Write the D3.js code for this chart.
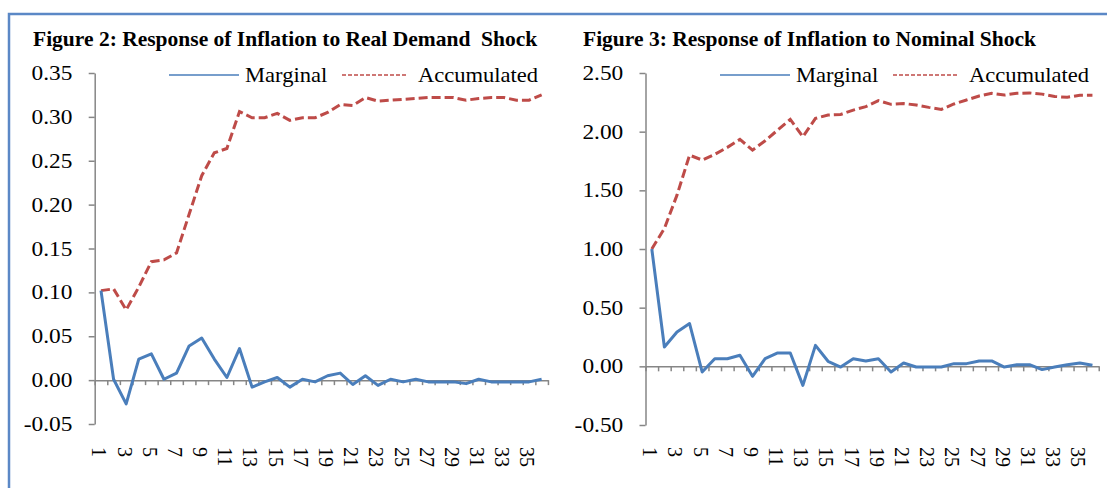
<!DOCTYPE html>
<html>
<head>
<meta charset="utf-8">
<script src="https://cdn.jsdelivr.net/npm/d3@7"></script>
<style>
  body { margin: 0; background: #fff; }
  svg text { font-family: "Times New Roman", "Liberation Serif", serif; fill: #000; }
</style>
</head>
<body>
<div id="chart"></div>
<script>
// periods 1..36
const periods = d3.range(1, 37);

// Figure 2: real demand shock
const realMarginal = [0.102, 0.001, -0.027, 0.024, 0.030, 0.001, 0.008, 0.039, 0.048, 0.024,
    0.003, 0.036, -0.008, -0.002, 0.003, -0.008, 0.001, -0.002, 0.005, 0.008,
    -0.005, 0.005, -0.006, 0.001, -0.002, 0.001, -0.002, -0.002, -0.002, -0.004,
    0.001, -0.002, -0.002, -0.002, -0.002, 0.001];
const realAccumulated = [0.102, 0.104, 0.080, 0.106, 0.135, 0.137, 0.145, 0.189, 0.233, 0.259,
    0.264, 0.306, 0.299, 0.299, 0.304, 0.296, 0.299, 0.299, 0.305, 0.314,
    0.313, 0.322, 0.318, 0.319, 0.320, 0.321, 0.322, 0.322, 0.322, 0.319,
    0.321, 0.322, 0.322, 0.319, 0.319, 0.325];
const realTicks = [-0.05, 0, 0.05, 0.10, 0.15, 0.20, 0.25, 0.30, 0.35];

// Figure 3: nominal shock
const nominalMarginal = [1.00, 0.165, 0.293, 0.364, -0.048, 0.065, 0.065, 0.094, -0.085, 0.065,
    0.114, 0.114, -0.162, 0.179, 0.043, -0.006, 0.065, 0.046, 0.065, -0.048,
    0.028, -0.006, -0.006, -0.006, 0.023, 0.023, 0.046, 0.046, -0.006, 0.014,
    0.014, -0.028, -0.006, 0.014, 0.028, 0.009];
const nominalAccumulated = [1.00, 1.175, 1.459, 1.80, 1.758, 1.806, 1.866, 1.934, 1.843, 1.922,
    2.014, 2.105, 1.957, 2.113, 2.142, 2.147, 2.184, 2.213, 2.264, 2.233,
    2.24, 2.227, 2.207, 2.19, 2.236, 2.27, 2.304, 2.327, 2.312, 2.327,
    2.33, 2.32, 2.30, 2.293, 2.31, 2.31];
const nominalTicks = [-0.5, 0, 0.5, 1.0, 1.5, 2.0, 2.5];

const blue = "#4a7ebb", red = "#be4b48", axisGray = "#868686";
// the original text is a little wider than Liberation Serif
const stretch = 1.14;

const svg = d3.select("#chart").append("svg")
    .attr("width", 1107)
    .attr("height", 488);

// outer frame
svg.append("path")
    .attr("d", "M9,488V14H1107")
    .attr("fill", "none")
    .attr("stroke", "#5b88c6")
    .attr("stroke-width", 2.5);

function ResponseChart(options) {
    let {title, titleX, marginal, accumulated, ticks, left, top, bottom, legendX} = options;
    let n = periods.length;
    let bandW = 12.59;
    let right = left + n * bandW;

    let g = svg.append("g");

    g.append("text")
        .attr("transform", "translate(" + titleX + ",46)")
        .attr("font-size", 21.5)
        .attr("font-weight", "bold")
        .text(title);

    let y = d3.scaleLinear()
        .domain([ticks[0], ticks[ticks.length - 1]])
        .range([bottom, top]);
    // band edges
    let xEdge = d3.scaleLinear().domain([0, n]).range([left, right]);
    let x = function (i) {
        return xEdge(i - 0.5);
    };

    let fmt = d3.format(".2f");
    let yAxis = g.append("g")
        .attr("transform", "translate(" + left + ",0)")
        .call(d3.axisLeft(y)
            .tickValues(ticks)
            .tickSize(6)
            .tickSizeOuter(0)
            .tickPadding(13.5)
            .tickFormat(d => fmt(d).replace("\u2212", "-")));
    yAxis.selectAll("line, path").attr("stroke", axisGray).attr("stroke-width", 1.5);
    yAxis.selectAll("text")
        .attr("font-size", 20.5)
        .attr("fill", "#000")
        .attr("transform", "scale(" + stretch + ",1)")
        .style("font-family", "'Times New Roman', 'Liberation Serif', serif");

    let xAxis = g.append("g")
        .attr("transform", "translate(0," + y(0) + ")")
        .call(d3.axisBottom(xEdge)
            .tickValues(d3.range(0, n + 1))
            .tickSize(5)
            .tickSizeOuter(0)
            .tickFormat(""));
    xAxis.selectAll("line, path").attr("stroke", axisGray).attr("stroke-width", 1.5);

    // rotated period labels, odd periods only
    g.selectAll(".plabel")
        .data(periods.filter(p => p % 2 === 1))
        .enter()
        .append("text")
        .attr("class", "plabel")
        .attr("font-size", 20)
        .attr("transform", p => "translate(" + (x(p) - 2) + ",447) rotate(90)")
        .attr("dy", "0.33em")
        .text(p => p);

    let line = d3.line()
        .x((d, i) => x(periods[i]))
        .y(d => y(d));

    g.append("path")
        .datum(accumulated)
        .attr("fill", "none")
        .attr("stroke", red)
        .attr("stroke-width", 3)
        .attr("stroke-dasharray", "9,4")
        .attr("d", line);

    g.append("path")
        .datum(marginal)
        .attr("fill", "none")
        .attr("stroke", blue)
        .attr("stroke-width", 3)
        .attr("stroke-linejoin", "round")
        .attr("d", line);

    // legend
    let legend = g.append("g").attr("transform", "translate(" + legendX + ",75)");
    legend.append("line")
        .attr("x1", 0).attr("x2", 70)
        .attr("stroke", blue).attr("stroke-width", 1.5);
    legend.append("text")
        .attr("transform", "translate(76,7) scale(1.1,1)")
        .attr("font-size", 20.5)
        .text("Marginal");
    legend.append("line")
        .attr("x1", 173).attr("x2", 239)
        .attr("stroke", red).attr("stroke-width", 1.5)
        .attr("stroke-dasharray", "4,2");
    legend.append("text")
        .attr("transform", "translate(249,7) scale(1.1,1)")
        .attr("font-size", 20.5)
        .text("Accumulated");
}

ResponseChart({
    title: "Figure 2: Response of Inflation to Real Demand\u00a0 Shock",
    titleX: 33,
    marginal: realMarginal,
    accumulated: realAccumulated,
    ticks: realTicks,
    left: 94.7,
    top: 73,
    bottom: 424,
    legendX: 169
});

ResponseChart({
    title: "Figure 3: Response of Inflation to Nominal Shock",
    titleX: 583,
    marginal: nominalMarginal,
    accumulated: nominalAccumulated,
    ticks: nominalTicks,
    left: 645.5,
    top: 73,
    bottom: 425,
    legendX: 720
});
</script>
</body>
</html>
